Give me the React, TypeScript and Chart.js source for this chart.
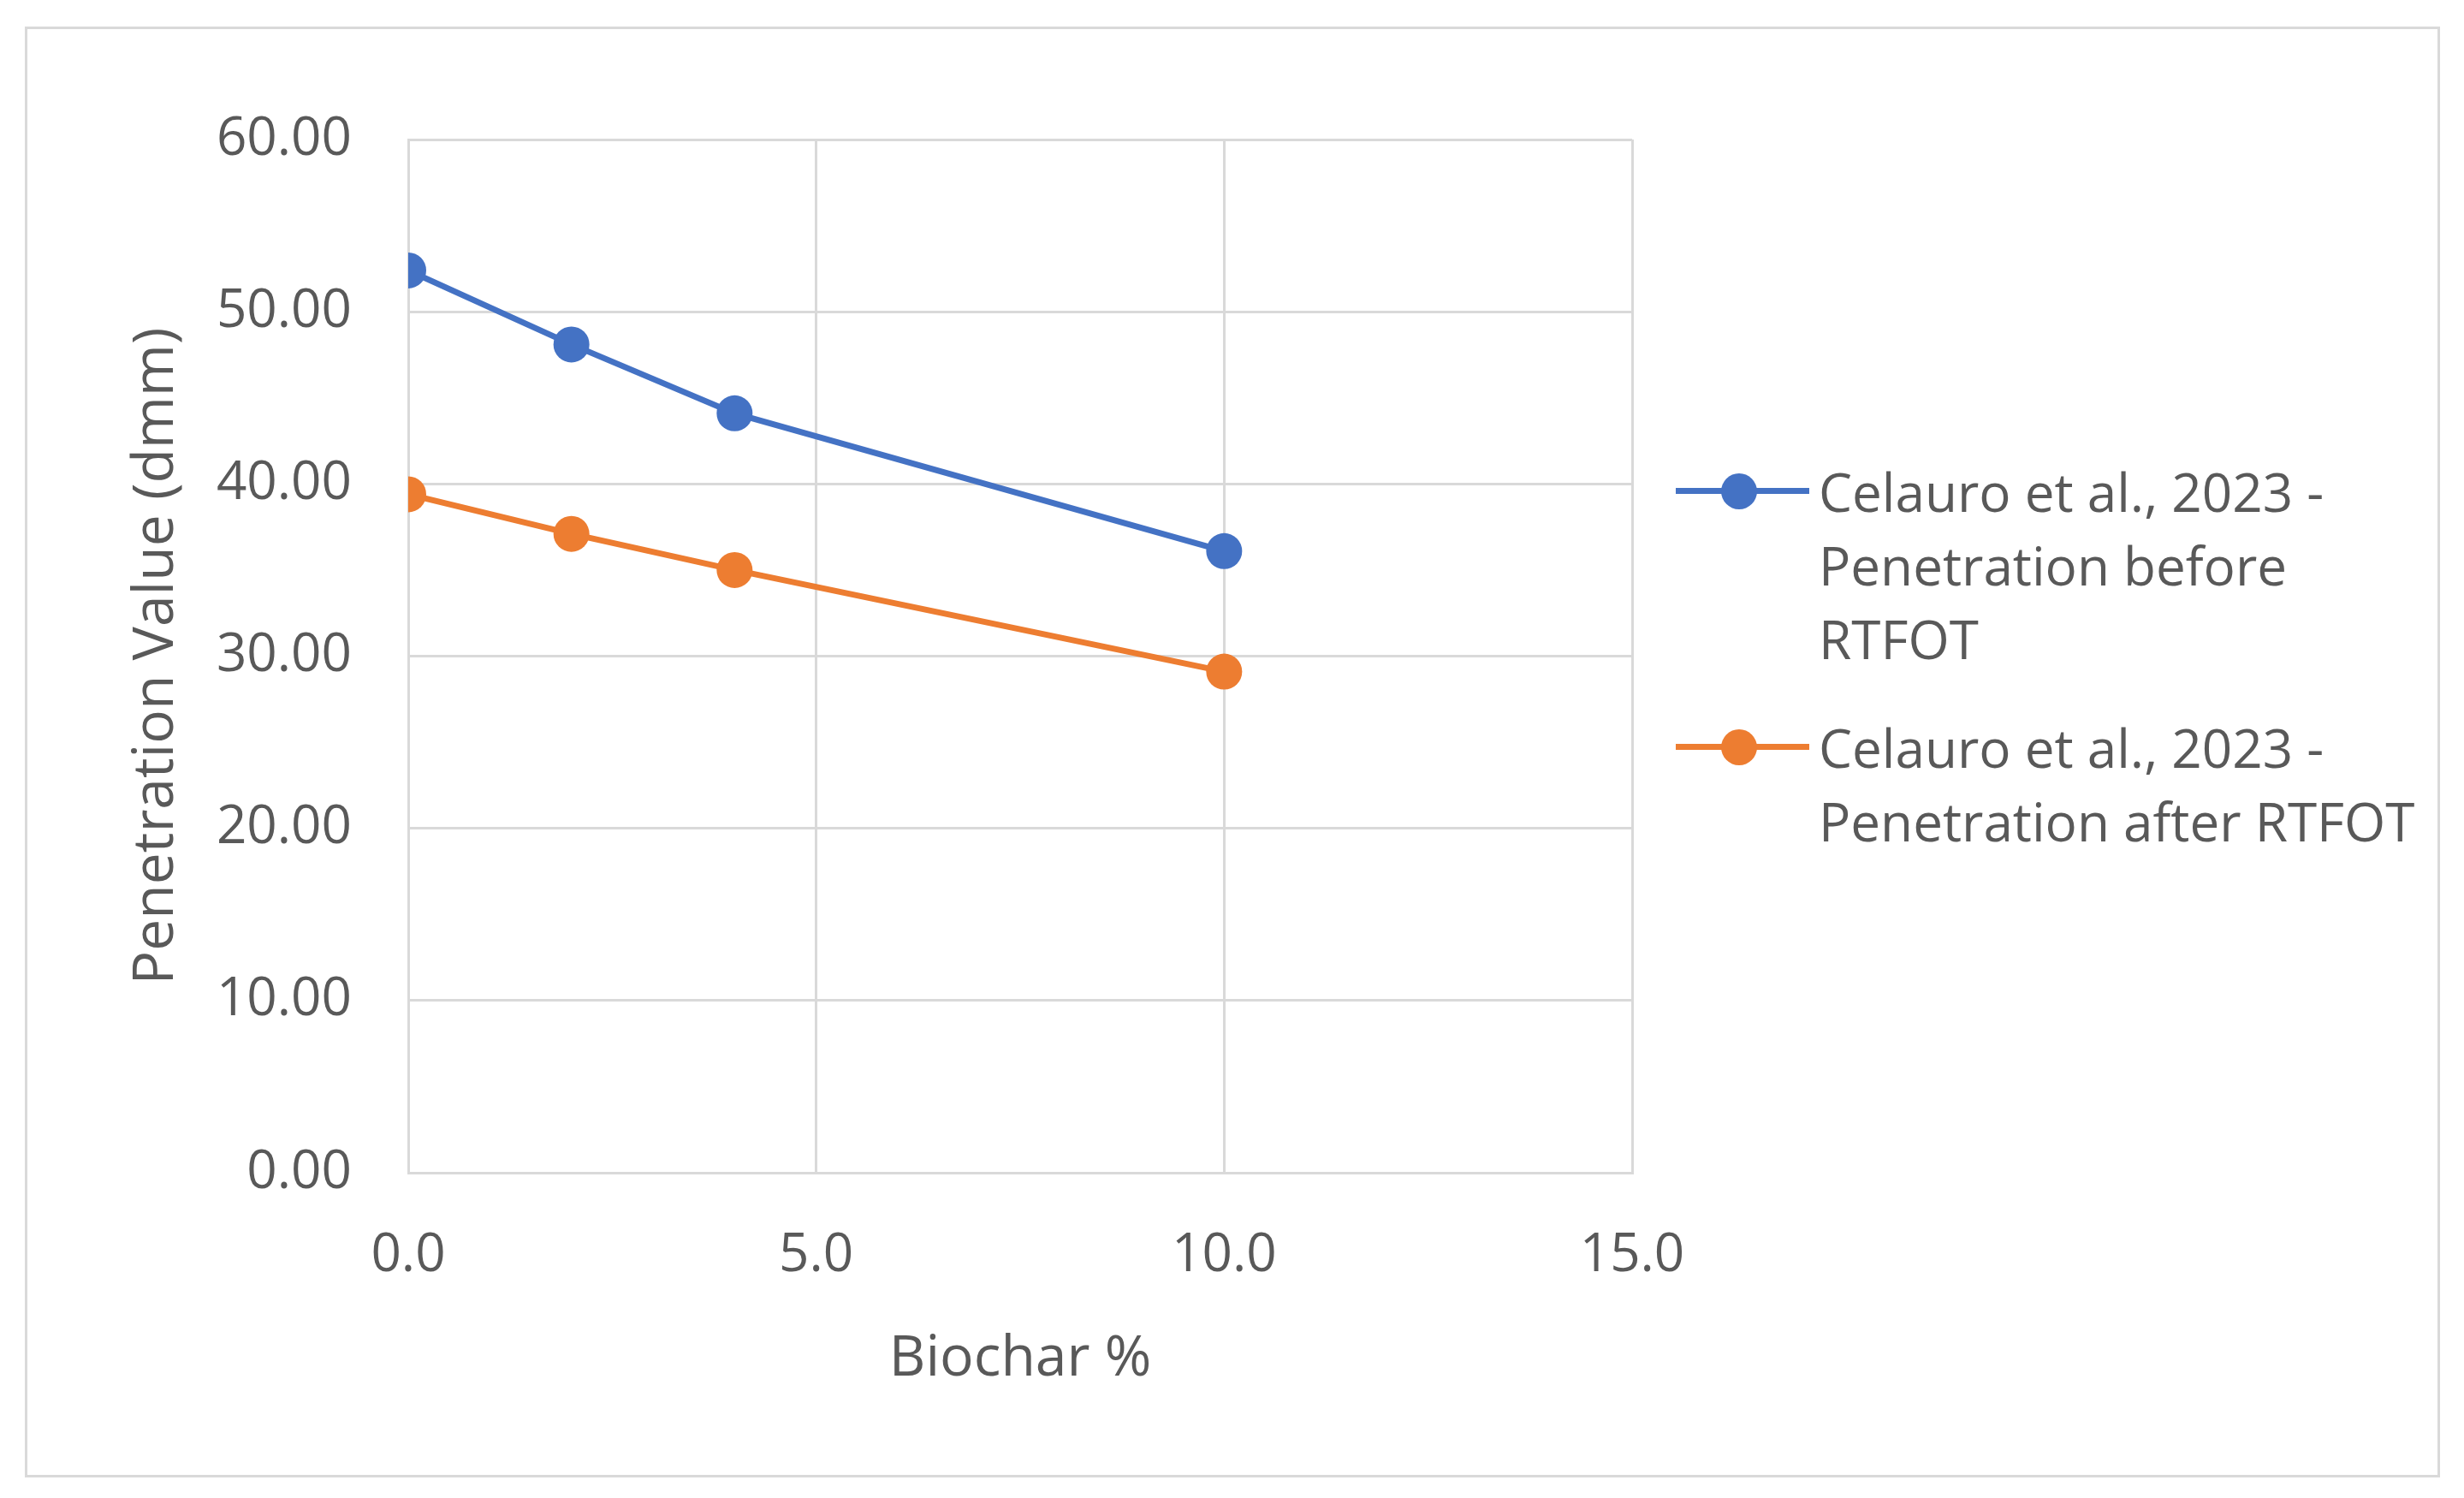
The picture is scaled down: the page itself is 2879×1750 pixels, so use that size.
import React, { useEffect, useRef } from "react";
import { Chart, registerables } from "chart.js";
Chart.register(...registerables);

const xBefore = [0, 2, 4, 10];
const yBefore = [52.4, 48.1, 44.1, 36.1];
const xAfter = [0, 2, 4, 10];
const yAfter = [39.4, 37.1, 35.0, 29.1];
const seriesNames = [
  ["Celauro et al., 2023 -", "Penetration before", "RTFOT"],
  ["Celauro et al., 2023 -", "Penetration after RTFOT"],
];
const colors = ["#4472C4", "#ED7D31"];
const FONT = "'Open Sans', 'Noto Sans', sans-serif";

export default function App() {
  const ref = useRef<HTMLCanvasElement>(null);
  useEffect(() => {
    const ctx = ref.current!;
    const mk = (xs: number[], ys: number[], c: string) => ({
      data: xs.map((x, i) => ({ x, y: ys[i] })),
      borderColor: c, backgroundColor: c, borderWidth: 7,
      pointRadius: 21, pointHoverRadius: 21, pointBorderWidth: 0, showLine: true,
    });
    const chart = new Chart(ctx, {
      type: "scatter",
      data: { datasets: [mk(xBefore, yBefore, colors[0]), mk(xAfter, yAfter, colors[1])] },
      options: {
        animation: false, responsive: false,
        layout: { padding: { top: 129, right: 941, left: 112, bottom: 95 } },
        plugins: { legend: { display: false }, tooltip: { enabled: false } },
        scales: {
          x: {
            min: 0, max: 15,
            ticks: { stepSize: 5, color: "#595959", font: { family: FONT, size: 62 }, padding: 60, callback: (v: any) => Number(v).toFixed(1) },
            grid: { color: "#d9d9d9", lineWidth: 3, drawTicks: false },
            border: { color: "#d9d9d9", width: 3 },
            title: { display: true, text: "Biochar %", color: "#595959", font: { family: FONT, size: 66 }, padding: 0 },
            afterFit: (s: any) => { s.height = 258; },
          },
          y: {
            min: 0, max: 60,
            ticks: { stepSize: 10, color: "#595959", font: { family: FONT, size: 62 }, padding: 66, callback: (v: any) => Number(v).toFixed(2) },
            grid: { color: "#d9d9d9", lineWidth: 3, drawTicks: false },
            border: { color: "#d9d9d9", width: 3 },
            title: { display: true, text: "Penetration Value (dmm)", color: "#595959", font: { family: FONT, size: 66 }, padding: 0 },
            afterFit: (s: any) => { s.width = 333; },
          },
        },
      },
    });
    return () => chart.destroy();
  }, []);
  const legendTops = [571, 870];
  return (
    <div style={{ position: "absolute", left: 29, top: 31, width: 2816, height: 1689, border: "3px solid #d9d9d9", background: "#fff" }}>
      <canvas ref={ref} width={2816} height={1689} style={{ position: "absolute", left: 0, top: 0 }} />
      {seriesNames.map((lines, i) => (
        <div key={i} style={{ position: "absolute", left: 0, top: 0 }}>
          <div style={{ position: "absolute", left: 1926, top: legendTops[i] - 31 - 4, width: 156, height: 7, background: colors[i] }} />
          <div style={{ position: "absolute", left: 1979, top: legendTops[i] - 31 - 21, width: 42, height: 42, borderRadius: "50%", background: colors[i] }} />
          <div style={{ position: "absolute", left: 2093, top: legendTops[i] - 31 - 43, fontFamily: FONT, fontSize: 62, lineHeight: "86px", color: "#595959", whiteSpace: "nowrap" }}>
            {lines.map((l, j) => <div key={j}>{l}</div>)}
          </div>
        </div>
      ))}
    </div>
  );
}
